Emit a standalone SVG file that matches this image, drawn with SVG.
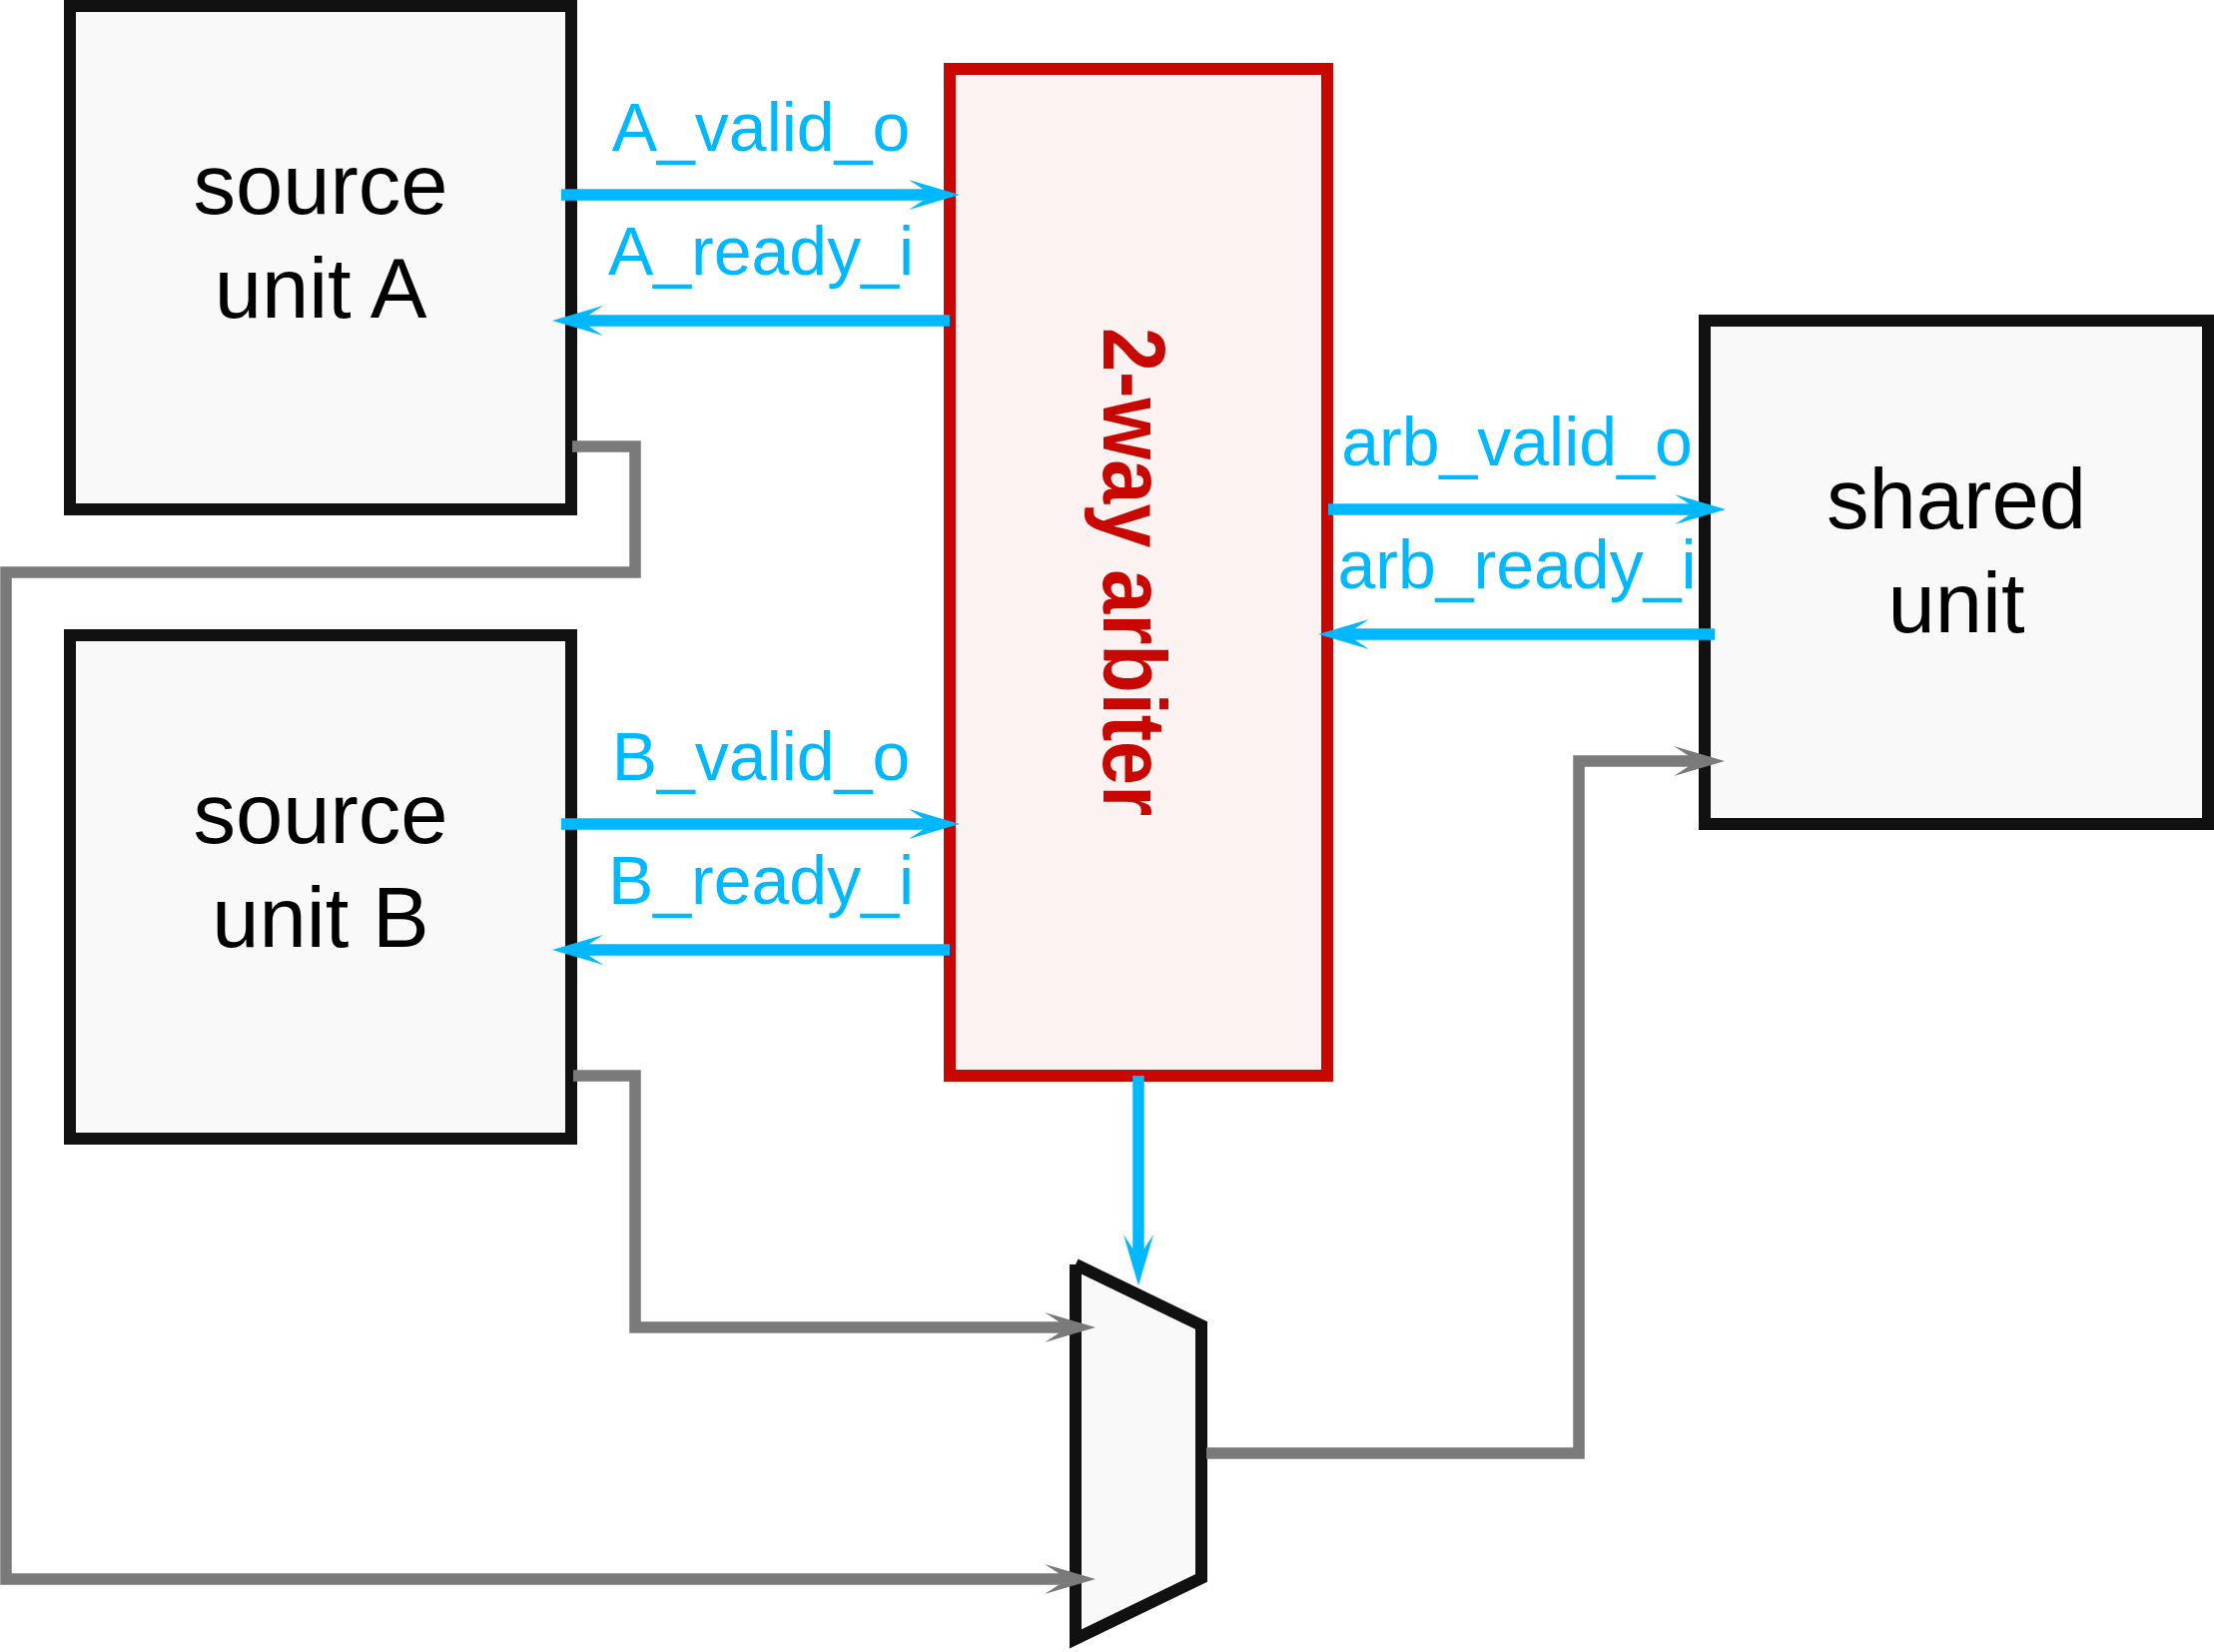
<svg xmlns="http://www.w3.org/2000/svg" width="2217" height="1654" viewBox="0 0 2217 1654">
  <style>
    .box { fill: #F9F9F9; stroke: #111111; stroke-width: 12; }
    .arb { fill: #FCF2F1; stroke: #C80800; stroke-width: 12; }
    .lbl { font-family: "Liberation Sans", Arial, sans-serif; font-size: 85px; fill: #000000; text-anchor: middle; }
    .sig { font-family: "Liberation Sans", Arial, sans-serif; font-size: 68px; fill: #00B8FF; text-anchor: middle; }
    .blue { fill: none; stroke: #00B8FF; stroke-width: 11.5; marker-end: url(#ahBlue); }
    .grey { fill: none; stroke: #7A7A7A; stroke-width: 11.5; stroke-linejoin: miter; marker-end: url(#ahGrey); }
  </style>
  <defs>
    <marker id="ahBlue" markerUnits="userSpaceOnUse" orient="auto" refX="0" refY="0" markerWidth="60" markerHeight="40" overflow="visible">
      <path d="M22,0 L-29,-15 L-6,0 L-29,15 Z" fill="#00B8FF"/>
    </marker>
    <marker id="ahGrey" markerUnits="userSpaceOnUse" orient="auto" refX="0" refY="0" markerWidth="60" markerHeight="40" overflow="visible">
      <path d="M22,0 L-29,-15 L-6,0 L-29,15 Z" fill="#7A7A7A"/>
    </marker>
  </defs>
  <rect width="2217" height="1654" fill="#FFFFFF"/>

  <g id="sourceA">
    <rect class="box" x="70" y="6" width="502" height="504"/>
    <text class="lbl" x="321" y="214">source</text>
    <text class="lbl" x="321" y="318">unit A</text>
  </g>
  <g id="sourceB">
    <rect class="box" x="70" y="636" width="502" height="504"/>
    <text class="lbl" x="321" y="844">source</text>
    <text class="lbl" x="321" y="948">unit B</text>
  </g>
  <g id="arbiter">
    <rect class="arb" x="951" y="69" width="378" height="1008"/>
    <text transform="translate(1105,572.5) rotate(90)" x="0" y="0" text-anchor="middle" font-family="Liberation Sans, Arial, sans-serif" font-weight="bold" font-size="89" fill="#C80800" textLength="489" lengthAdjust="spacingAndGlyphs">2-way arbiter</text>
  </g>
  <g id="shared">
    <rect class="box" x="1707" y="321" width="504" height="504"/>
    <text class="lbl" x="1959" y="529">shared</text>
    <text class="lbl" x="1959" y="633">unit</text>
  </g>
  <g id="mux">
    <path d="M1077,1266 L1203,1327 L1203,1580 L1077,1641 L1077,1266" fill="#F9F9F9" stroke="#111111" stroke-width="12" stroke-linejoin="miter" stroke-linecap="butt"/>
  </g>

  <g id="connectors">
    <path class="blue" d="M562,195 H939"/>
    <path class="blue" d="M951,321 H575"/>
    <path class="blue" d="M562,825 H939"/>
    <path class="blue" d="M951,951 H575"/>
    <path class="blue" d="M1330,510 H1706"/>
    <path class="blue" d="M1717,635 H1342"/>
    <path class="blue" d="M1140,1077 V1265"/>
    <path class="grey" d="M573,447 H636 V573 H6 V1581 H1075"/>
    <path class="grey" d="M574,1077 H636 V1329 H1075"/>
    <path class="grey" d="M1208,1455 H1581 V762 H1705"/>
    <text class="sig" x="762" y="151">A_valid_o</text>
    <text class="sig" x="762" y="275">A_ready_i</text>
    <text class="sig" x="762" y="781">B_valid_o</text>
    <text class="sig" x="762" y="905">B_ready_i</text>
    <text class="sig" x="1519" y="466">arb_valid_o</text>
    <text class="sig" x="1519" y="589">arb_ready_i</text>
  </g>
</svg>
